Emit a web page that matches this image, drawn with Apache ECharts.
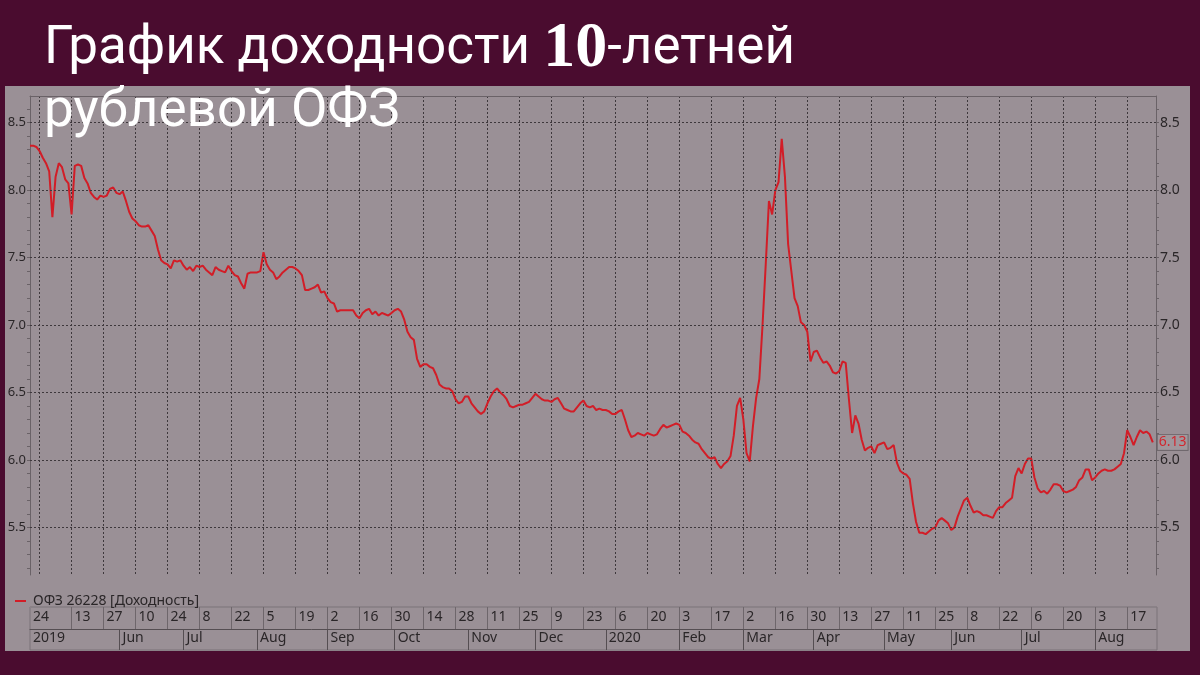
<!DOCTYPE html>
<html><head><meta charset="utf-8">
<script src="https://cdn.jsdelivr.net/npm/echarts@6/dist/echarts.min.js"></script>
<style>html,body{margin:0;padding:0;background:#4a0c2f;}#c{width:1200px;height:675px;}</style>
</head><body><div id="c"></div>
<script>
// ---- data ----
const startDate = '2019-04-24';
const endDate = '2020-08-28';
const seriesName = 'ОФЗ 26228 [Доходность]';
const yields = [
  8.33, 8.33, 8.32, 8.29, 8.24, 8.20, 8.14, 7.80, 8.10, 8.20,
  8.17, 8.08, 8.05, 7.82, 8.18, 8.19, 8.18, 8.09, 8.05, 7.98,
  7.95, 7.93, 7.96, 7.95, 7.96, 8.01, 8.02, 7.98, 7.97, 7.99,
  7.92, 7.84, 7.79, 7.77, 7.74, 7.73, 7.73, 7.74, 7.70, 7.66,
  7.56, 7.48, 7.46, 7.45, 7.42, 7.48, 7.47, 7.48, 7.44, 7.41,
  7.43, 7.40, 7.44, 7.43, 7.44, 7.41, 7.39, 7.37, 7.43, 7.41,
  7.40, 7.39, 7.44, 7.40, 7.37, 7.36, 7.31, 7.27, 7.38, 7.39,
  7.39, 7.39, 7.40, 7.54, 7.45, 7.41, 7.39, 7.34, 7.36, 7.39,
  7.41, 7.43, 7.43, 7.42, 7.40, 7.37, 7.26, 7.26, 7.27, 7.28,
  7.30, 7.24, 7.25, 7.20, 7.17, 7.16, 7.10, 7.11, 7.11, 7.11,
  7.11, 7.11, 7.07, 7.05, 7.09, 7.11, 7.12, 7.08, 7.10, 7.07,
  7.09, 7.08, 7.07, 7.09, 7.11, 7.12, 7.10, 7.04, 6.95, 6.91,
  6.89, 6.75, 6.69, 6.71, 6.71, 6.69, 6.68, 6.63, 6.56, 6.54,
  6.53, 6.53, 6.51, 6.45, 6.42, 6.43, 6.47, 6.47, 6.42, 6.39,
  6.36, 6.34, 6.36, 6.42, 6.47, 6.51, 6.53, 6.50, 6.48, 6.45,
  6.40, 6.39, 6.40, 6.41, 6.41, 6.42, 6.43, 6.46, 6.49, 6.47,
  6.45, 6.44, 6.44, 6.43, 6.45, 6.46, 6.42, 6.38, 6.37, 6.36,
  6.36, 6.39, 6.42, 6.44, 6.40, 6.39, 6.40, 6.37, 6.38, 6.37,
  6.37, 6.36, 6.34, 6.34, 6.36, 6.37, 6.30, 6.22, 6.17, 6.18,
  6.20, 6.19, 6.18, 6.20, 6.19, 6.18, 6.19, 6.23, 6.26, 6.24,
  6.25, 6.26, 6.27, 6.26, 6.21, 6.20, 6.18, 6.15, 6.13, 6.12,
  6.08, 6.05, 6.02, 6.01, 6.02, 5.97, 5.94, 5.97, 5.99, 6.03,
  6.18, 6.40, 6.46, 6.30, 6.05, 5.99, 6.25, 6.46, 6.60, 7.00,
  7.45, 7.92, 7.82, 8.00, 8.06, 8.38, 8.10, 7.60, 7.40, 7.20,
  7.14, 7.02, 7.00, 6.95, 6.73, 6.80, 6.81, 6.76, 6.72, 6.73,
  6.70, 6.65, 6.64, 6.66, 6.73, 6.72, 6.45, 6.20, 6.33, 6.27,
  6.15, 6.07, 6.09, 6.10, 6.05, 6.11, 6.12, 6.13, 6.08, 6.09,
  6.11, 5.98, 5.92, 5.90, 5.89, 5.86, 5.68, 5.54, 5.46, 5.46,
  5.45, 5.47, 5.49, 5.50, 5.55, 5.57, 5.55, 5.53, 5.48, 5.50,
  5.58, 5.64, 5.70, 5.72, 5.66, 5.61, 5.62, 5.61, 5.59, 5.59,
  5.58, 5.57, 5.62, 5.65, 5.65, 5.68, 5.70, 5.72, 5.88, 5.94,
  5.90, 5.97, 6.01, 6.01, 5.87, 5.79, 5.76, 5.77, 5.75, 5.78,
  5.82, 5.82, 5.81, 5.77, 5.76, 5.77, 5.78, 5.80, 5.85, 5.87,
  5.93, 5.93, 5.85, 5.87, 5.90, 5.92, 5.93, 5.92, 5.92, 5.93,
  5.95, 5.97, 6.05, 6.22, 6.17, 6.11, 6.17, 6.22, 6.20, 6.21,
  6.19, 6.13
];
const dayTicks = ['2019-05-13','2019-05-27','2019-06-10','2019-06-24','2019-07-08','2019-07-22',
  '2019-08-05','2019-08-19','2019-09-02','2019-09-16','2019-09-30','2019-10-14','2019-10-28',
  '2019-11-11','2019-11-25','2019-12-09','2019-12-23','2020-01-06','2020-01-20','2020-02-03',
  '2020-02-17','2020-03-02','2020-03-16','2020-03-30','2020-04-13','2020-04-27','2020-05-11',
  '2020-05-25','2020-06-08','2020-06-22','2020-07-06','2020-07-20','2020-08-03','2020-08-17'];
const extraGridDates = ['2019-04-29'];
const monthStarts = ['2019-06-03','2019-07-01','2019-08-01','2019-09-02','2019-10-01','2019-11-01',
  '2019-12-02','2020-01-01','2020-02-03','2020-03-02','2020-04-01','2020-05-01','2020-06-01',
  '2020-07-01','2020-08-03'];
const monthLabels = ['Jun','Jul','Aug','Sep','Oct','Nov','Dec','2020','Feb','Mar','Apr','May','Jun','Jul','Aug'];
const firstDayLabel = '24';
const firstMonthLabel = '2019';
const yTicks = [5.5, 6.0, 6.5, 7.0, 7.5, 8.0, 8.5];
const yMinorTicks = [5.2,5.3,5.4,5.5,5.6,5.7,5.8,5.9,6.0,6.1,6.2,6.3,6.4,6.5,6.6,6.7,6.8,6.9,7.0,
  7.1,7.2,7.3,7.4,7.5,7.6,7.7,7.8,7.9,8.0,8.1,8.2,8.3,8.4,8.5,8.6];
const yMin = 5.147, yMax = 8.698;

// ---- weekday categories ----
const categories = [];
(function(){
  let d = new Date(startDate + 'T00:00:00Z');
  const e = new Date(endDate + 'T00:00:00Z');
  while (d <= e) {
    const w = d.getUTCDay();
    if (w !== 0 && w !== 6) categories.push(d.toISOString().slice(0, 10));
    d = new Date(d.getTime() + 864e5);
  }
})();
const daySet = new Set(dayTicks);
const gridSet = new Set(dayTicks.concat(extraGridDates));
const monthSet = new Set(monthStarts);

const axisCol = '#6a6267';
const gridCol = '#3e383c';
const txtCol = '#2a2628';
const font = 'Noto Sans';

const chart = echarts.init(document.getElementById('c'), null, {renderer: 'canvas'});
chart.setOption({
  backgroundColor: '#4a0c2f',
  animation: false,
  graphic: [
    {type: 'rect', z: -100, shape: {x: 5, y: 86, width: 1185, height: 565}, style: {fill: '#9a9096'}},
    {type: 'rect', z: -90, shape: {x: 30, y: 607, width: 1127, height: 43},
     style: {fill: 'none', stroke: '#7b7378', lineWidth: 1}}
  ],
  title: {
    left: 44, top: 18, padding: 0,
    text: '{a|График доходности }{b|10}{a|-летней}\n{a|рублевой ОФЗ}',
    textStyle: {
      fontWeight: 'normal',
      rich: {
        a: {fontFamily: 'Roboto', fontWeight: 'normal', fontSize: 53, color: '#ffffff', lineHeight: 63},
        b: {fontFamily: 'Liberation Serif', fontWeight: 'bold', fontSize: 64, color: '#ffffff', lineHeight: 63}
      }
    },
    z: 20
  },
  legend: {
    data: [seriesName], left: 10, top: 589, icon: 'rect', itemWidth: 11, itemHeight: 2,
    textStyle: {fontSize: 14, color: txtCol, fontFamily: font, padding: [0, 0, 0, 2]}
  },
  grid: {left: 30, right: 44, top: 96, bottom: 100, containLabel: false},
  xAxis: [
    {
      type: 'category', data: categories, boundaryGap: false, gridIndex: 0, position: 'bottom',
      axisLine: {show: false}, axisTick: {show: false}, axisLabel: {show: false},
      splitLine: {show: true, interval: (i, v) => gridSet.has(v),
        lineStyle: {color: gridCol, width: 1, type: [2, 2]}}
    },
    {
      type: 'category', data: categories, boundaryGap: false, gridIndex: 0, position: 'bottom', offset: 32,
      axisLine: {show: true, lineStyle: {color: '#8a8287'}},
      axisTick: {show: true, interval: (i, v) => daySet.has(v), length: 22, lineStyle: {color: '#6e666b'}},
      axisLabel: {show: true, interval: (i, v) => i === 0 || daySet.has(v),
        formatter: (v, i) => i === 0 ? firstDayLabel : String(+v.slice(8)),
        align: 'left', padding: [0, 0, 0, 3], margin: 3, fontSize: 14, color: txtCol, fontFamily: font},
      splitLine: {show: false}
    },
    {
      type: 'category', data: categories, boundaryGap: false, gridIndex: 0, position: 'bottom', offset: 54,
      axisLine: {show: true, lineStyle: {color: '#554e52'}},
      axisTick: {show: true, interval: (i, v) => monthSet.has(v), length: 21, lineStyle: {color: '#554e52'}},
      axisLabel: {show: true, interval: (i, v) => i === 0 || monthSet.has(v),
        formatter: (v, i) => i === 0 ? firstMonthLabel : monthLabels[monthStarts.indexOf(v)],
        align: 'left', padding: [0, 0, 0, 3], margin: 2, fontSize: 14, color: txtCol, fontFamily: font},
      splitLine: {show: false}
    },
    {
      type: 'category', data: categories, boundaryGap: false, gridIndex: 0, position: 'top',
      axisLine: {show: true, lineStyle: {color: axisCol}}, axisTick: {show: false},
      axisLabel: {show: false}, splitLine: {show: false}
    }
  ],
  yAxis: [
    {
      type: 'value', min: yMin, max: yMax, position: 'left',
      axisLine: {show: true, lineStyle: {color: axisCol}},
      axisTick: {show: true, customValues: yMinorTicks, length: 3, lineStyle: {color: axisCol}},
      axisLabel: {show: true, customValues: yTicks, formatter: v => v.toFixed(1), margin: 4,
        fontSize: 13, color: txtCol, fontFamily: font},
      splitLine: {show: false}
    },
    {
      type: 'value', min: yMin, max: yMax, position: 'right',
      axisLine: {show: true, lineStyle: {color: axisCol}},
      axisTick: {show: true, customValues: yMinorTicks, length: 3, lineStyle: {color: axisCol}},
      axisLabel: {show: true, customValues: yTicks, formatter: v => v.toFixed(1), margin: 4,
        fontSize: 14, color: txtCol, fontFamily: font},
      splitLine: {show: false}
    }
  ],
  series: [{
    name: seriesName, type: 'line', data: yields, xAxisIndex: 0, yAxisIndex: 0,
    symbol: 'none', showSymbol: false, smooth: false,
    lineStyle: {color: '#d21d27', width: 2}, itemStyle: {color: '#d21d27'},
    endLabel: {show: true, formatter: p => Number(p.value).toFixed(2), distance: 5,
      color: '#d2262e', fontSize: 14, fontFamily: font, backgroundColor: '#a0979c',
      borderColor: '#70686d', borderWidth: 1, padding: [1, 1, 0, 1]},
    markLine: {
      silent: true, symbol: 'none', label: {show: false},
      lineStyle: {color: gridCol, width: 1, type: [2, 2]},
      data: yTicks.map(v => ({yAxis: v}))
    },
    z: 3
  }]
});
</script></body></html>
